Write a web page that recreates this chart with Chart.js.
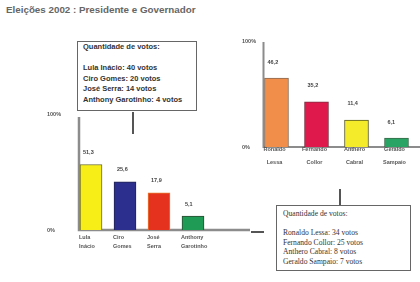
<!DOCTYPE html>
<html lang="pt-BR">
<head>
<meta charset="utf-8">
<script src="https://cdn.jsdelivr.net/npm/chart.js@4.4.1/dist/chart.umd.min.js"></script>
<style>
    body { margin: 0; background: #fff; }
    #pagina { position: relative; width: 420px; height: 282px; overflow: hidden; font-family: "Liberation Sans", Arial, sans-serif; }
    #titulo { position: absolute; left: 6px; top: 4px; font-size: 9.8px; font-weight: bold; color: #666; white-space: nowrap; }
    .caixa { position: absolute; box-sizing: border-box; border: 1.5px solid #666; color: #333; white-space: nowrap; }
    #caixaPresidente { left: 77px; top: 41px; width: 120px; height: 70px; font-size: 7.5px; font-weight: bold; line-height: 10.5px; padding: 0 5px; }
    #caixaGovernador { left: 276px; top: 205px; width: 135px; height: 66px; font-family: "Liberation Serif", "Times New Roman", serif; font-size: 7.6px; line-height: 9.5px; padding: 3px 6px; }
    .traco { position: absolute; background: #555; }
    canvas { position: absolute; }
</style>
</head>
<body>
<div id="pagina">
    <div id="titulo">Eleições 2002 : Presidente e Governador</div>

    <div class="caixa" id="caixaPresidente">
        Quantidade de votos:<br><br>
        Lula Inácio: 40 votos<br>
        Ciro Gomes: 20 votos<br>
        José Serra: 14 votos<br>
        Anthony Garotinho: 4 votos
    </div>
    <div class="traco" style="left:132px; top:112px; width:2px; height:22px;"></div>

    <div class="caixa" id="caixaGovernador">
        Quantidade de votos:<br><br>
        Ronaldo Lessa: 34 votos<br>
        Fernando Collor: 25 votos<br>
        Anthero Cabral: 8 votos<br>
        Geraldo Sampaio: 7 votos
    </div>
    <div class="traco" style="left:339px; top:189px; width:1.5px; height:16px;"></div>
    <div class="traco" style="left:251px; top:231px; width:13px; height:1.5px;"></div>

    <canvas id="graficoPresidente" width="250" height="160" style="left:0; top:100px;"></canvas>
    <canvas id="graficoGovernador" width="190" height="150" style="left:230px; top:30px;"></canvas>
</div>

<script>

// ======================================
// DADOS
// ======================================

const candidatosPresidente = [["Lula", "Inácio"], ["Ciro", "Gomes"], ["José", "Serra"], ["Anthony", "Garotinho"]];
const alturasPresidente = [56.5, 41.5, 32, 12];
const percentuaisPresidente = ["51,3", "25,6", "17,9", "5,1"];

const candidatosGovernador = [["Ronaldo", "Lessa"], ["Fernando", "Collor"], ["Anthero", "Cabral"], ["Geraldo", "Sampaio"]];
const alturasGovernador = [65, 42.5, 25.5, 8.5];
const percentuaisGovernador = ["46,2", "35,2", "11,4", "6,1"];

const ticksEixoY = [0, 100];

const coresPresidente = ["#f6ee16", "#2c2f8e", "#e4321f", "#1f9b55"];
const bordasPresidente = ["#6b6a2a", "#23244f", "#e8782e", "#2c4a32"];
const coresGovernador = ["#f08e4a", "#e0194c", "#f4ec2a", "#2aa465"];
const bordasGovernador = ["#8a6a55", "#7a3040", "#5a5a25", "#3a6a48"];


// ======================================
// EIXOS E RÓTULOS DESENHADOS À MÃO
// ======================================

const rotulosPlugin = {

    id: "rotulos",

    beforeDatasetsDraw(chart, args, opts) {

        const ctx = chart.ctx;
        const barras = chart.getDatasetMeta(0).data;
        const y = chart.scales.y;
        const xEixo = barras[0].x - barras[0].width / 2 - 1;

        ctx.save();
        ctx.strokeStyle = "#8c8c8c";
        ctx.lineWidth = opts.espessura;
        ctx.beginPath();
        ctx.moveTo(xEixo, y.getPixelForValue(100) + opts.topoEixo);
        ctx.lineTo(xEixo, y.getPixelForValue(0));
        ctx.lineTo(chart.width, y.getPixelForValue(0));
        ctx.stroke();
        ctx.restore();

    },

    afterDatasetsDraw(chart, args, opts) {

        const ctx = chart.ctx;
        const barras = chart.getDatasetMeta(0).data;
        const yBase = chart.scales.y.getPixelForValue(0);

        ctx.save();
        ctx.font = "bold 5.5px 'Liberation Sans', Arial, sans-serif";
        ctx.textBaseline = "middle";

        barras.forEach((barra, i) => {

            const esquerda = barra.x - barra.width / 2;

            ctx.fillStyle = "#444";
            ctx.textAlign = "left";
            ctx.fillText(opts.percentuais[i], esquerda + 3, barra.y - opts.acimaBarra);

            ctx.fillStyle = "#555";
            ctx.textAlign = opts.alinhamento;
            const xTexto = opts.alinhamento === "left" ? esquerda - 1 : barra.x - 2;

            chart.data.labels[i].forEach((linha, j) => {
                ctx.fillText(linha, xTexto, yBase + opts.abaixoBase + j * opts.entreLinhas);
            });

        });

        ctx.restore();

    }

};


// ======================================
// CONFIGURAÇÃO COMUM
// ======================================

function opcoesGrafico(padding, larguraEixo, rotulos) {

    return {

        responsive: false,
        animation: false,

        layout: { padding: padding },

        scales: {

            x: { display: false },

            y: {
                min: 0,
                max: 100,
                grid: { display: false },
                border: { display: false },
                afterBuildTicks: escala => {
                    escala.ticks = ticksEixoY.map(v => ({ value: v }));
                },
                afterFit: escala => {
                    escala.width = larguraEixo;
                },
                ticks: {
                    crossAlign: "far",
                    padding: 0,
                    color: "#555",
                    font: { size: 5.5, weight: "bold", family: "'Liberation Sans', Arial, sans-serif" },
                    callback: v => v + "%"
                }
            }

        },

        plugins: {
            legend: { display: false },
            tooltip: { enabled: false },
            rotulos: rotulos
        }

    };

}


// ======================================
// GRÁFICO PRESIDENTE
// ======================================

new Chart(document.getElementById("graficoPresidente"), {

    type: "bar",

    data: {
        labels: candidatosPresidente,
        datasets: [{
            data: alturasPresidente,
            backgroundColor: coresPresidente,
            borderColor: bordasPresidente,
            borderWidth: 1,
            barThickness: 22
        }]
    },

    options: opcoesGrafico(
        { top: 14, bottom: 30, left: 47, right: 40 },
        27,
        { percentuais: percentuaisPresidente, alinhamento: "left", acimaBarra: 12, abaixoBase: 7, entreLinhas: 9, espessura: 2.5, topoEixo: 3 }
    ),

    plugins: [rotulosPlugin]

});


// ======================================
// GRÁFICO GOVERNADOR
// ======================================

new Chart(document.getElementById("graficoGovernador"), {

    type: "bar",

    data: {
        labels: candidatosGovernador,
        datasets: [{
            data: alturasGovernador,
            backgroundColor: coresGovernador,
            borderColor: bordasGovernador,
            borderWidth: 1,
            barThickness: 24
        }]
    },

    options: opcoesGrafico(
        { top: 11, bottom: 33, left: 12, right: 3.5 },
        14.5,
        { percentuais: percentuaisGovernador, alinhamento: "center", acimaBarra: 16, abaixoBase: 2, entreLinhas: 13, espessura: 2, topoEixo: 1 }
    ),

    plugins: [rotulosPlugin]

});

</script>
</body>
</html>
